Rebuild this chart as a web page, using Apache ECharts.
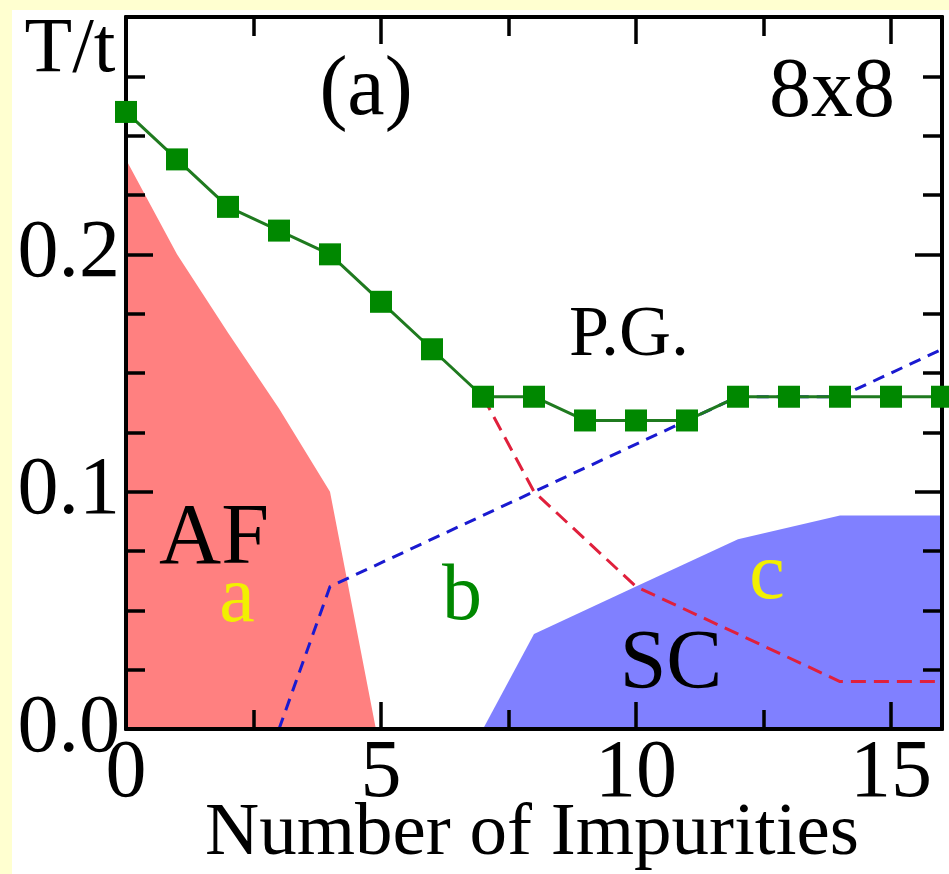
<!DOCTYPE html>
<html>
<head>
<meta charset="utf-8">
<script src="https://cdn.jsdelivr.net/npm/echarts@6/dist/echarts.min.js"></script>
<style>
html,body{margin:0;padding:0;background:#ffffff;}
#chart{width:949px;height:874px;}
</style>
</head>
<body>
<div id="chart"></div>
<script>
// ---- data ----
const impurities = [0,1,2,3,4,5,6,7,8,9,10,11,12,13,14,15,16];
const tStar = [0.26,0.24,0.22,0.21,0.20,0.18,0.16,0.14,0.14,0.13,0.13,0.13,0.14,0.14,0.14,0.14,0.14];
const afBoundaryX = [0,1,2,3,4,4.9];
const afBoundaryY = [0.24,0.20,0.167,0.135,0.10,0];
const scBoundaryX = [7,8,10,12,14,16];
const scBoundaryY = [0,0.04,0.06,0.08,0.09,0.09];
const blueLineX = [3,4,11,12,14,16];
const blueLineY = [0,0.06,0.13,0.14,0.14,0.16];
const redLineX = [7,8,10,14,16];
const redLineY = [0.14,0.10,0.06,0.02,0.02];
const xMajorTicks = [0,5,10,15];
const xMinorTicks = [2.5,7.5,12.5];

const pair = (xs, ys) => xs.map((x, i) => [x, ys[i]]);
const FONT = '"Liberation Serif","DejaVu Serif",serif';

const chart = echarts.init(document.getElementById('chart'));

const axisLine = {show:true, onZero:false, lineStyle:{color:'#000', width:4}};
function xAx(pos, vals, len, labels){
  return {
    type:'value', position:pos, min:0, max:16, interval:5, z:4,
    axisLine: axisLine,
    axisTick:{show:true, inside:true, length:len, customValues:vals, lineStyle:{color:'#000', width:3.5}},
    axisLabel: labels ? {show:true, customValues:xMajorTicks, fontFamily:FONT, fontSize:82, color:'#000', margin:4}
                      : {show:false},
    splitLine:{show:false}
  };
}
function yAx(pos, labels){
  return {
    type:'value', position:pos, min:0, max:0.3, interval:0.1, z:4,
    axisLine: axisLine,
    axisTick:{show:true, inside:true, length:27, lineStyle:{color:'#000', width:3.5}},
    minorTick:{show:true, splitNumber:4, length:19, lineStyle:{color:'#000', width:3.5}},
    axisLabel: labels ? {show:true, showMaxLabel:false, formatter:v=>v.toFixed(1), fontFamily:FONT, fontSize:82, color:'#000', margin:6}
                      : {show:false},
    splitLine:{show:false}, minorSplitLine:{show:false}
  };
}

function txt(t, x, y, size, color, align){
  return {type:'text', x:x, y:y, z:100,
    style:{text:t, fontFamily:FONT, fontSize:size, fill:color||'#000', align:align||'center', verticalAlign:'middle'}};
}
function txtB(t, cx, baseline, size, color){ return txt(t, cx, baseline - 0.31*size, size, color); }

chart.setOption({
  animation:false,
  backgroundColor:'#ffffff',
  grid:{left:126, right:7, top:17, bottom:145, containLabel:false},
  xAxis:[
    xAx('bottom', xMajorTicks, 27, true),
    xAx('top', xMajorTicks, 27, false),
    xAx('bottom', xMinorTicks, 19, false),
    xAx('top', xMinorTicks, 19, false)
  ],
  yAxis:[ yAx('left', true), yAx('right', false) ],
  graphic:[
    {type:'rect', shape:{x:0,y:0,width:12,height:874}, style:{fill:'#FFFFD0'}, z:-10, silent:true},
    {type:'rect', shape:{x:0,y:0,width:949,height:10}, style:{fill:'#FFFFD0'}, z:-10, silent:true},
    txtB('T/t', 70, 75, 78),
    txtB('(a)', 366, 118, 84),
    txtB('8x8', 832, 120, 84),
    txtB('P.G.', 629, 358, 72),
    txtB('AF', 214, 567, 86),
    txtB('SC', 671, 692, 84),
    txt('a', 237, 618 - 0.22*80, 80, '#F2F000'),
    txtB('b', 462, 623, 80, '#008800'),
    txt('c', 767, 595 - 0.22*80, 80, '#F2F000'),
    txtB('Number of Impurities', 532, 858, 75)
  ],
  series:[
    {name:'AF', type:'line', xAxisIndex:0, yAxisIndex:0, data:pair(afBoundaryX, afBoundaryY),
     symbol:'none', lineStyle:{width:0}, areaStyle:{color:'#FF8080', opacity:1}, z:1, silent:true},
    {name:'SC', type:'line', xAxisIndex:0, yAxisIndex:0, data:pair(scBoundaryX, scBoundaryY),
     symbol:'none', lineStyle:{width:0}, areaStyle:{color:'#8080FF', opacity:1}, z:1, silent:true},
    {name:'blue', type:'line', data:pair(blueLineX, blueLineY), symbol:'none',
     lineStyle:{color:'#1a1ad0', width:3, type:[12,8]}, z:3},
    {name:'red', type:'line', data:pair(redLineX, redLineY), symbol:'none',
     lineStyle:{color:'#e0203c', width:3, type:[15,8]}, z:3},
    {name:'T*', type:'line', data:pair(impurities, tStar), symbol:'rect', symbolSize:22,
     itemStyle:{color:'#008800'}, lineStyle:{color:'#1f7a1f', width:3}, z:20, clip:false}
  ]
});
</script>
</body>
</html>
